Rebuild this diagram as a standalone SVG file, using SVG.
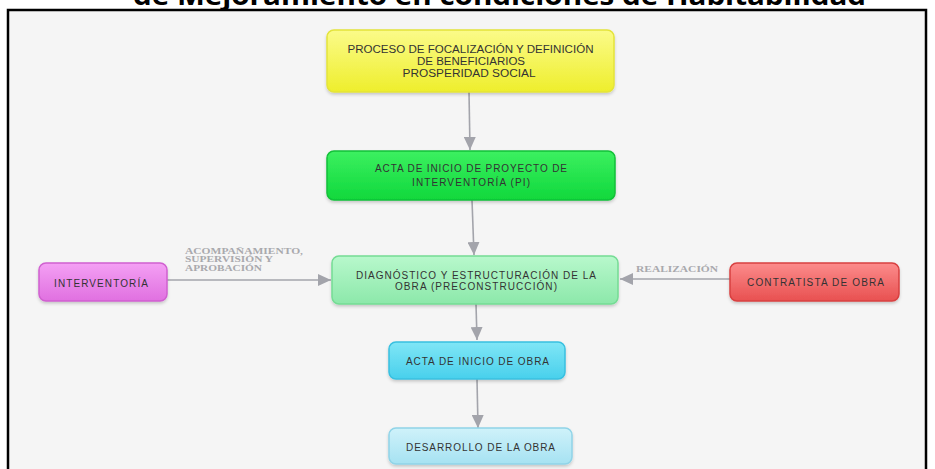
<svg xmlns="http://www.w3.org/2000/svg" width="935" height="469" viewBox="0 0 935 469">
  <style>
    .node text { font-family: "Liberation Sans", Arial, sans-serif; font-size: 10px; fill: #333333; text-anchor: middle; }
    .edge { fill: none; stroke: #a3a4ab; stroke-width: 1.6; marker-end: url(#arrow); }
    .elabel { font-family: "Liberation Serif", "Times New Roman", serif; font-weight: bold; font-size: 8.5px; fill: #a9a9ad; }
    .box { stroke-width: 1.5; filter: url(#shadow); }
  </style>
  <defs>
    <marker id="arrow" markerUnits="userSpaceOnUse" markerWidth="13" markerHeight="12" viewBox="0 0 13 12" refX="13" refY="6" orient="auto">
      <path d="M0,0 L13,6 L0,12 z" fill="#a3a4ab"/>
    </marker>
    <filter id="shadow" x="-10%" y="-20%" width="120%" height="150%">
      <feDropShadow dx="0" dy="2" stdDeviation="1.5" flood-color="#000000" flood-opacity="0.18"/>
    </filter>
    <linearGradient id="gYellow" x1="0" y1="0" x2="0" y2="1">
      <stop offset="0" stop-color="#fbfb8a"/>
      <stop offset="1" stop-color="#eeee2c"/>
    </linearGradient>
    <linearGradient id="gGreen" x1="0" y1="0" x2="0" y2="1">
      <stop offset="0" stop-color="#3cf060"/>
      <stop offset="1" stop-color="#10d83c"/>
    </linearGradient>
    <linearGradient id="gLight" x1="0" y1="0" x2="0" y2="1">
      <stop offset="0" stop-color="#b8f8cc"/>
      <stop offset="1" stop-color="#8ce8aa"/>
    </linearGradient>
    <linearGradient id="gPink" x1="0" y1="0" x2="0" y2="1">
      <stop offset="0" stop-color="#f4a0f4"/>
      <stop offset="1" stop-color="#e070e0"/>
    </linearGradient>
    <linearGradient id="gRed" x1="0" y1="0" x2="0" y2="1">
      <stop offset="0" stop-color="#fc8c8c"/>
      <stop offset="1" stop-color="#e85050"/>
    </linearGradient>
    <linearGradient id="gCyan" x1="0" y1="0" x2="0" y2="1">
      <stop offset="0" stop-color="#80e6f6"/>
      <stop offset="1" stop-color="#48d0ec"/>
    </linearGradient>
    <linearGradient id="gPale" x1="0" y1="0" x2="0" y2="1">
      <stop offset="0" stop-color="#cff2fa"/>
      <stop offset="1" stop-color="#a6e2f2"/>
    </linearGradient>
  </defs>

  <rect x="0" y="0" width="935" height="469" fill="#ffffff"/>
  <text x="499.5" y="5" font-family="'Open Sans', 'DejaVu Sans', sans-serif" font-weight="bold" font-size="26" fill="#000000" text-anchor="middle" textLength="733" lengthAdjust="spacingAndGlyphs">de Mejoramiento en condiciones de Habitabilidad</text>
  <rect x="8" y="10" width="918" height="470" fill="#f5f5f5" stroke="#000000" stroke-width="2.5"/>

  <g id="connectors">
    <path class="edge" d="M469,92 L470,150"/>
    <path class="edge" d="M472,200 L474,255"/>
    <path class="edge" d="M476,304 L477,340"/>
    <path class="edge" d="M477,379 L478,428"/>
    <path class="edge" d="M167,280 L331,280"/>
    <path class="edge" d="M730,279 L620,279"/>
    <text class="elabel" x="185" y="253.5" textLength="118" lengthAdjust="spacingAndGlyphs">ACOMPAÑAMIENTO,</text>
    <text class="elabel" x="185" y="262" textLength="88" lengthAdjust="spacingAndGlyphs">SUPERVISIÓN Y</text>
    <text class="elabel" x="185" y="270.5" textLength="77" lengthAdjust="spacingAndGlyphs">APROBACIÓN</text>
    <text class="elabel" x="636" y="271.5" textLength="82" lengthAdjust="spacingAndGlyphs">REALIZACIÓN</text>
  </g>

  <g id="node-focalizacion" class="node">
    <rect class="box" x="327" y="30" width="287" height="62" rx="7" fill="url(#gYellow)" stroke="#e4e43a"/>
    <text x="470.5" y="52.5" textLength="246" lengthAdjust="spacingAndGlyphs">PROCESO DE FOCALIZACIÓN Y DEFINICIÓN</text>
    <text x="471" y="64.5" textLength="108" lengthAdjust="spacingAndGlyphs">DE BENEFICIARIOS</text>
    <text x="469" y="76.5" textLength="133" lengthAdjust="spacingAndGlyphs">PROSPERIDAD SOCIAL</text>
  </g>

  <g id="node-acta-pi" class="node">
    <rect class="box" x="327" y="151" width="288" height="49" rx="7" fill="url(#gGreen)" stroke="#12c038"/>
    <text x="471" y="171.5" textLength="192" lengthAdjust="spacing">ACTA DE INICIO DE PROYECTO DE</text>
    <text x="471" y="186" textLength="118" lengthAdjust="spacing">INTERVENTORÍA (PI)</text>
  </g>

  <g id="node-diagnostico" class="node">
    <rect class="box" x="332" y="256" width="286" height="48" rx="7" fill="url(#gLight)" stroke="#74dc94"/>
    <text x="476" y="278.5" textLength="240" lengthAdjust="spacing">DIAGNÓSTICO Y ESTRUCTURACIÓN DE LA</text>
    <text x="476" y="290" textLength="162" lengthAdjust="spacing">OBRA (PRECONSTRUCCIÓN)</text>
  </g>

  <g id="node-interventoria" class="node">
    <rect class="box" x="39" y="263" width="128" height="38" rx="7" fill="url(#gPink)" stroke="#d060d0"/>
    <text x="101" y="286.5" textLength="94" lengthAdjust="spacing">INTERVENTORÍA</text>
  </g>

  <g id="node-contratista" class="node">
    <rect class="box" x="730" y="263" width="169" height="38" rx="7" fill="url(#gRed)" stroke="#d84040"/>
    <text x="815.5" y="285.5" textLength="137" lengthAdjust="spacing">CONTRATISTA DE OBRA</text>
  </g>

  <g id="node-acta-obra" class="node">
    <rect class="box" x="389" y="342" width="176" height="37" rx="7" fill="url(#gCyan)" stroke="#38c0e0"/>
    <text x="477.5" y="364.5" textLength="143" lengthAdjust="spacing">ACTA DE INICIO DE OBRA</text>
  </g>

  <g id="node-desarrollo" class="node">
    <rect class="box" x="389" y="428" width="183" height="36" rx="7" fill="url(#gPale)" stroke="#90d4e8"/>
    <text x="480.5" y="450.5" textLength="149" lengthAdjust="spacing">DESARROLLO DE LA OBRA</text>
  </g>
</svg>
